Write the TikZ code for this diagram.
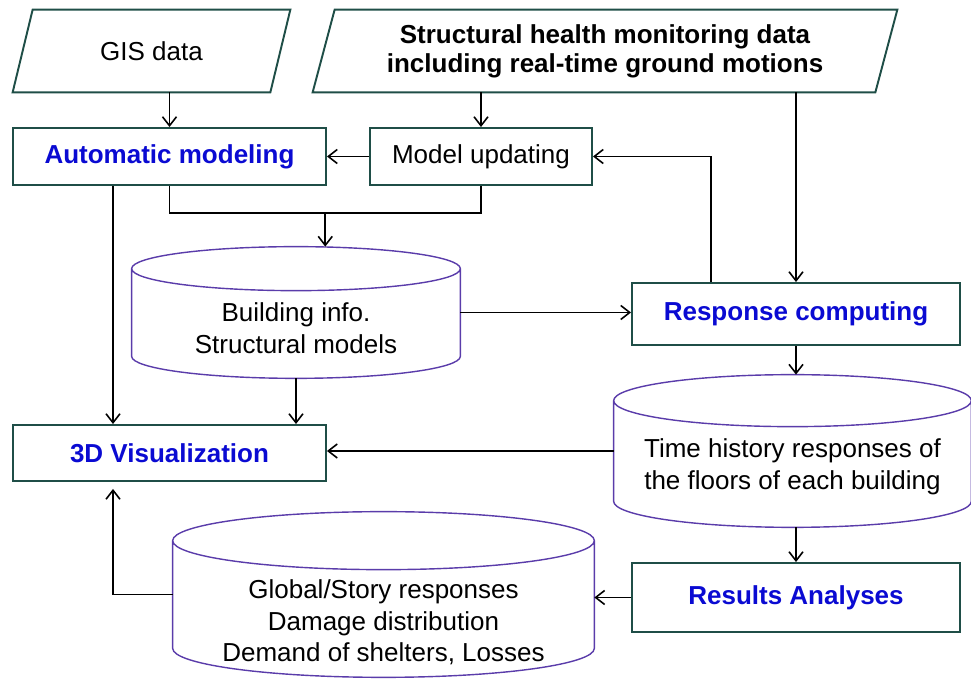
\documentclass[tikz,border=0pt]{standalone}
\usepackage{fontspec}
\setmainfont{Liberation Sans}
\usetikzlibrary{arrows.meta,calc}

\definecolor{boxline}{RGB}{31,78,71}
\definecolor{dbline}{RGB}{90,60,170}
\definecolor{stepblue}{RGB}{10,10,210}

% outline of a data store round node #1, ellipse y radius #2
\newcommand\storeoutline[2]{%
    \draw[draw=dbline, line width=0.8pt] let \p1=(#1.north west), \p2=(#1.south east) in
        (\x1,{\y1-#2}) -- (\x1,{\y2+#2})
        arc[start angle=180, end angle=360, x radius={(\x2-\x1)/2}, y radius=#2]
        -- (\x2,{\y1-#2})
        ({(\x1+\x2)/2},{\y1-#2}) ellipse [x radius={(\x2-\x1)/2}, y radius=#2];
}
% outline of an input node #1, slant #2
\newcommand\inputoutline[2]{%
    \draw[draw=boxline, line width=1.1pt] ([xshift=-#2]#1.south west) -- ([xshift=#2]#1.north west)
        -- ([xshift=#2]#1.north east) -- ([xshift=-#2]#1.south east) -- cycle;
}

\begin{document}
\begin{tikzpicture}[font=\fontsize{14.8}{17.9}\selectfont,
    >={Straight Barb[length=1.8mm,width=2.8mm]},
    flow/.style={->, line width=0.9pt},
    inbox/.style={rectangle, inner sep=0pt, align=center, minimum height=1.64cm},
    stepbox/.style={draw=boxline, line width=1.1pt, rectangle, inner sep=0pt, align=center},
    stepname/.style={stepbox, text=stepblue, font=\fontsize{14.8}{17.9}\selectfont\bfseries},
    store/.style={rectangle, inner sep=0pt},
    storetext/.style={align=center, inner sep=0pt}]

    \useasboundingbox (0,0) rectangle (19.42,-13.58);

    % inputs
    \node[inbox, minimum width=5.14cm] (gis) at (3.03,-1.02) {GIS data};
    \node[inbox, minimum width=11.24cm, font=\fontsize{14.8}{16.4}\selectfont\bfseries] (shm) at (12.1,-1.02)
        {Structural health monitoring data\\including real-time ground motions};
    \inputoutline{gis}{2mm}
    \inputoutline{shm}{2.2mm}

    % processing steps
    \node[stepname, minimum width=6.26cm, minimum height=1.14cm] (auto) at (3.39,-3.13) {Automatic modeling};
    \node[stepbox, minimum width=4.44cm, minimum height=1.14cm] (upd) at (9.62,-3.13) {Model updating};
    \node[stepname, minimum width=6.56cm, minimum height=1.24cm] (resp) at (15.92,-6.28) {Response computing};
    \node[stepname, minimum width=6.26cm, minimum height=1.12cm] (vis) at (3.39,-9.06) {3D Visualization};
    \node[stepname, minimum width=6.56cm, minimum height=1.38cm] (res) at (15.92,-11.95) {Results Analyses};

    % data stores
    \node[store, minimum width=6.56cm, minimum height=2.62cm] (bld) at (5.92,-6.25) {};
    \node[store, minimum width=7.14cm, minimum height=3.04cm] (hist) at (15.85,-9.02) {};
    \node[store, minimum width=8.42cm, minimum height=3.3cm] (out) at (7.67,-11.89) {};
    \storeoutline{bld}{0.44cm}
    \storeoutline{hist}{0.52cm}
    \storeoutline{out}{0.58cm}
    \node[storetext] (bldtxt) at ([yshift=-0.31cm]bld.center) {Building info.\\Structural models};
    \node[storetext] (histtxt) at ([yshift=-0.32cm]hist.center) {Time history responses of\\the floors of each building};
    \node[storetext] (outtxt) at ([yshift=-0.56cm]out.center)
        {Global/Story responses\\Damage distribution\\Demand of shelters, Losses};

    % connectors
    \draw[flow] (auto.north |- gis.south) -- (auto.north);
    \draw[flow] (upd.north |- shm.south) -- (upd.north);
    \draw[flow] (upd.west) -- (auto.east);
    \draw[line width=0.9pt] (auto.south) -- ++(0,-0.54) coordinate (ja) -| (upd.south);
    \coordinate (jn) at ($(ja)!0.5!(ja -| upd.south)$);
    \draw[flow] (jn) -- (jn |- bld.north);
    \draw[flow] (bld.east) -- (bld.east -| resp.west);
    \draw[flow] (resp.north |- shm.south) -- (resp.north);
    \draw[flow] ([xshift=-1.7cm]resp.north) |- (upd.east);
    \draw[flow] (resp.south) -- (resp.south |- hist.north);
    \draw[flow] (hist.west) -- (hist.west -| vis.east);
    \draw[flow] ([xshift=-1.13cm]auto.south) -- ([xshift=-1.13cm]vis.north);
    \draw[flow] (bld.south) -- (bld.south |- vis.north);
    \draw[flow] (res.south |- hist.south) -- (res.north);
    \draw[flow] (res.west) -- (res.west -| out.east);
    \draw[flow] (out.west) -| ([xshift=-1.13cm,yshift=-0.14cm]vis.south);

\end{tikzpicture}
\end{document}
